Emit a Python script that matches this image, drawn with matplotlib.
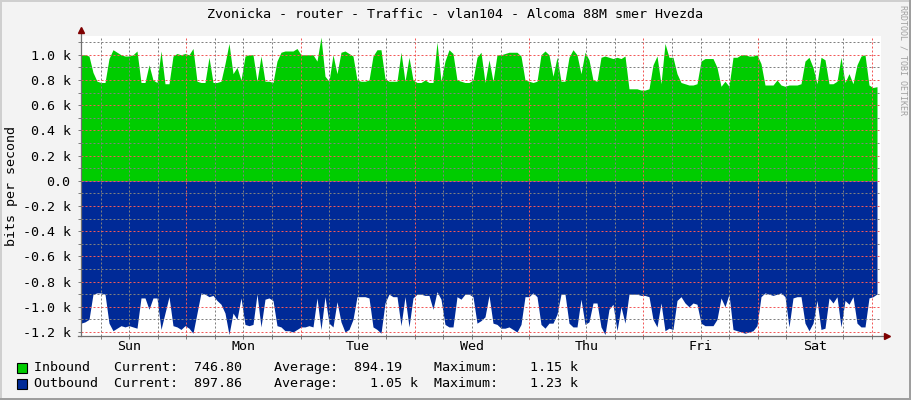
import numpy as np
import matplotlib
matplotlib.use("Agg")
import matplotlib.pyplot as plt
from matplotlib.patches import Rectangle
from matplotlib.ticker import MultipleLocator, FuncFormatter

# traffic in k bits per second, one sample every ~50 minutes, starting Sun ~02:00
inbound_k = [
    1.00, 1.00, 0.99, 0.86, 0.79, 0.78, 0.78, 0.97, 1.04, 1.02,
    1.00, 0.99, 0.99, 1.00, 1.03, 0.78, 0.78, 0.92, 0.80, 0.78,
    1.03, 0.77, 0.77, 0.99, 1.01, 1.00, 1.01, 1.00, 1.05, 0.79,
    0.78, 0.78, 0.98, 0.78, 0.78, 0.79, 0.93, 1.09, 0.85, 0.90,
    0.80, 0.99, 1.00, 1.00, 0.79, 0.99, 0.79, 0.79, 0.78, 0.95,
    1.02,
    1.03, 1.03, 1.03, 1.05, 1.00, 1.00, 1.00, 1.00, 0.95, 1.14,
    0.83, 0.79, 1.00, 0.85, 1.02, 1.03, 1.01, 0.99, 0.80, 0.79,
    0.79, 0.80, 0.99, 1.04, 1.04, 0.81, 0.79, 0.79, 0.79, 1.02,
    0.79, 0.98, 0.80, 0.78, 0.78, 0.80, 0.78, 0.78, 1.10, 0.79,
    0.95, 1.04, 1.01, 0.80, 0.79, 0.78, 0.78, 0.80, 0.98, 1.02,
    0.78, 0.96, 0.79, 1.00, 1.00, 1.01, 1.02, 1.02, 1.02, 0.99,
    0.80, 0.79, 0.78, 0.79, 1.00, 1.03, 1.00, 0.83, 0.98, 0.79,
    0.79, 0.98, 1.04, 1.00, 0.85, 1.02, 0.96, 0.80, 0.79, 0.98,
    0.99, 0.98, 0.97, 0.98, 0.97, 0.99, 0.73, 0.73, 0.73, 0.72,
    0.72, 0.73, 0.92, 0.99, 0.77, 1.09, 0.98, 0.98, 0.85, 0.78,
    0.77, 0.76, 0.76, 0.77, 0.95, 0.97, 0.97, 0.97, 0.90, 0.75,
    0.79, 0.75, 0.98, 0.98, 1.00, 1.00, 0.99, 0.99, 1.00, 0.93,
    0.76, 0.76, 0.76, 0.80, 0.76, 0.75, 0.76, 0.76, 0.76, 0.77,
    0.95, 0.98, 0.90, 0.77, 0.98, 0.96, 0.77, 0.77, 0.79, 0.98,
    0.78, 0.85, 0.77, 0.92, 0.99, 1.00, 0.76, 0.74, 0.747,
]
outbound_k = [
    1.13, 1.12, 1.10, 0.90, 0.89, 0.89, 0.90, 1.13, 1.19, 1.17,
    1.15, 1.16, 1.15, 1.16, 1.17, 0.93, 0.93, 1.02, 0.93, 0.93,
    1.18, 1.05, 0.92, 1.15, 1.16, 1.18, 1.15, 1.17, 1.21, 1.05,
    0.89, 0.90, 0.92, 0.91, 0.95, 0.98, 1.05, 1.22, 1.05, 1.10,
    0.93, 1.14, 1.15, 1.14, 0.90, 1.16, 0.94, 0.93, 0.95, 1.15,
    1.16,
    1.19, 1.19, 1.20, 1.18, 1.16, 1.16, 1.15, 1.16, 0.93, 1.18,
    0.92, 1.13, 1.16, 0.96, 1.12, 1.20, 1.18, 1.10, 0.92, 0.92,
    0.92, 0.93, 1.16, 1.18, 1.21, 0.97, 0.90, 0.92, 0.92, 1.15,
    0.92, 1.16, 0.93, 0.90, 0.90, 0.91, 0.91, 1.02, 0.88, 0.94,
    1.14, 1.16, 1.16, 0.92, 0.94, 0.90, 0.90, 0.92, 1.13, 1.11,
    1.08, 0.91, 1.13, 1.14, 1.17, 1.17, 1.16, 1.18, 1.20, 1.14,
    0.92, 0.92, 0.89, 0.92, 1.14, 1.17, 1.13, 1.13, 1.06, 0.90,
    0.90, 1.13, 1.16, 1.16, 0.94, 1.14, 1.12, 0.97, 0.97, 1.16,
    1.22, 1.02, 0.98, 1.19, 1.00, 1.13, 0.90, 0.90, 0.90, 0.91,
    0.91, 0.92, 1.10, 1.16, 0.97, 1.19, 1.17, 1.18, 0.95, 0.92,
    0.97, 1.00, 0.97, 0.98, 1.13, 1.15, 1.15, 1.15, 1.10, 0.93,
    1.00, 0.90, 1.18, 1.19, 1.20, 1.21, 1.20, 1.19, 1.15, 0.92,
    0.89, 0.90, 0.91, 0.90, 0.89, 0.92, 1.16, 0.93, 0.92, 0.92,
    1.13, 1.19, 1.13, 0.95, 1.18, 1.17, 0.93, 0.97, 0.92, 1.16,
    0.95, 0.98, 0.92, 1.13, 1.16, 1.16, 0.93, 0.92, 0.898,
]
day_names = ["Sun", "Mon", "Tue", "Wed", "Thu", "Fri", "Sat"]

title = "Zvonicka - router - Traffic - vlan104 - Alcoma 88M smer Hvezda"
legend_rows = [
    ("Inbound   Current:  746.80    Average:  894.19    Maximum:    1.15 k", "#00CC00"),
    ("Outbound  Current:  897.86    Average:    1.05 k  Maximum:    1.23 k", "#002A97"),
]

start_h = 1.89   # hours after Sunday midnight
step_h = 0.84
t = start_h + step_h * np.arange(len(inbound_k))

W, H = 911, 400
mono = "DejaVu Sans Mono"
fs = 9.6
plt.rcParams["font.family"] = mono

fig = plt.figure(figsize=(W / 100, H / 100), dpi=100, facecolor="#F3F3F3")
ax = fig.add_axes([81 / W, 64 / H, 800 / W, 300 / H])
ax.set_facecolor("white")

ax.fill_between(t, 0, inbound_k, color="#00CC00", lw=0, zorder=1)
ax.fill_between(t, 0, -np.array(outbound_k), color="#002A97", lw=0, zorder=1)

ax.set_xlim(start_h, start_h + 168)
ax.set_ylim(-1.232, 1.149)

# grid: gray every 6 h / 0.1 k, red every day / 0.2 k, dotted
ax.xaxis.set_major_locator(MultipleLocator(24))
ax.xaxis.set_minor_locator(MultipleLocator(6))
ax.yaxis.set_major_locator(MultipleLocator(0.2))
ax.yaxis.set_minor_locator(MultipleLocator(0.1))
ax.set_axisbelow(False)
ax.grid(which="minor", color=(0.5, 0.5, 0.5, 0.38), lw=0.72, ls=(0, (2, 2)))
ax.grid(which="major", color=(0.95, 0.35, 0.35, 0.45), lw=0.72, ls=(0, (2, 2)))

ax.xaxis.set_major_formatter(FuncFormatter(lambda v, p: ""))
ax.yaxis.set_major_formatter(
    FuncFormatter(lambda v, p: "0.0" if abs(v) < 1e-9 else f"{v:.1f} k"))
ax.tick_params(which="both", direction="out", length=2.5, width=0.72,
               color="#808080", labelsize=fs, labelcolor="black", pad=5)

for s in ax.spines.values():
    s.set_visible(False)

# axis lines with small dark red arrows
tf = ax.transAxes
ax.plot([0, 0], [0, 308 / 300], color="#707070", lw=0.9, transform=tf, clip_on=False, zorder=5)
ax.plot([-3 / 800, 805 / 800], [0, 0], color="#707070", lw=0.9, transform=tf, clip_on=False, zorder=5)
ax.plot([0], [306 / 300], marker="^", ms=4.5, color="#7F0000", mec="#7F0000",
        transform=tf, clip_on=False, zorder=6)
ax.plot([806 / 800], [0], marker=">", ms=4.5, color="#7F0000", mec="#7F0000",
        transform=tf, clip_on=False, zorder=6)

for i, d in enumerate(day_names):
    ax.text(12 + 24 * i, -11 / 300, d, ha="center", va="center", fontsize=fs,
            transform=ax.get_xaxis_transform())

fig.text(455 / W, 1 - 15 / H, title, ha="center", va="center", fontsize=fs)
fig.text(12 / W, 1 - 186 / H, "bits per second", rotation=90,
         ha="center", va="center", fontsize=fs)
fig.text(903 / W, 1 - 5 / H, "RRDTOOL / TOBI OETIKER", rotation=270,
         ha="center", va="top", fontsize=6, color="#A0A0A0")

for row, (txt, col) in enumerate(legend_rows):
    yc = 368 + 16 * row
    fig.add_artist(Rectangle((17 / W, 1 - (yc + 5) / H), 10 / W, 10 / H,
                             transform=fig.transFigure, facecolor=col,
                             edgecolor="black", lw=0.8))
    fig.text(34 / W, 1 - yc / H, txt, ha="left", va="center", fontsize=fs)

# shaded frame
fig.add_artist(Rectangle((0, 1 - 2 / H), 1, 2 / H, transform=fig.transFigure,
                         facecolor="#CFCFCF", lw=0))
fig.add_artist(Rectangle((0, 0), 2 / W, 1, transform=fig.transFigure,
                         facecolor="#CFCFCF", lw=0))
fig.add_artist(Rectangle((0, 0), 1, 2 / H, transform=fig.transFigure,
                         facecolor="#9E9E9E", lw=0))
fig.add_artist(Rectangle((1 - 2 / W, 0), 2 / W, 1, transform=fig.transFigure,
                         facecolor="#9E9E9E", lw=0))

fig.savefig("out.png", dpi=100, facecolor=fig.get_facecolor())
